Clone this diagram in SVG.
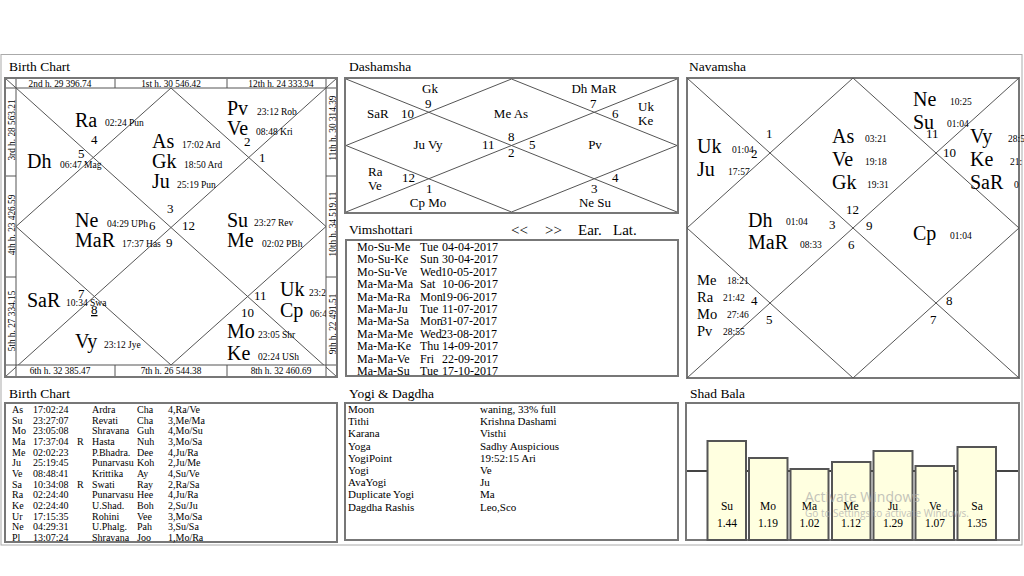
<svg xmlns="http://www.w3.org/2000/svg" width="1024" height="576" viewBox="0 0 1024 576">
<style>
text{font-family:"Liberation Serif","Times New Roman",serif;fill:#000}
.t{font-size:13.5px}
.big{font-size:20px}
.mid{font-size:14.5px}
.sm{font-size:9.5px}
.num{font-size:13px}
.strip{font-size:9.3px}
.d{font-size:13px}
.c{text-anchor:middle}
.row{font-size:12px}
.hdr{font-size:15px}
.tb{font-size:10px}
.yt{font-size:11px}
.sb{font-size:11.5px;text-anchor:middle}
.box{fill:none;stroke:#777;stroke-width:2}
.ln{stroke:#555;stroke-width:1;fill:none}
.stripbox{fill:#fff;stroke:#555;stroke-width:1}
.bar{fill:#ffffe0;stroke:#555;stroke-width:2}
.wm{font-family:"Open Sans","DejaVu Sans",sans-serif;fill:#aaa;opacity:0.7}
</style>
<rect x="0" y="0" width="1024" height="576" fill="#fff"/>
<rect x="1" y="54.5" width="1021" height="490.5" fill="none" stroke="#aaa" stroke-width="1"/>

<!-- Birth Chart -->
<g id="birth-chart">
<text class="t" x="9" y="71">Birth Chart</text>
<g id="birth-lines">
<line class="ln" x1="5" y1="78" x2="337" y2="377"/>
<line class="ln" x1="337" y1="78" x2="5" y2="377"/>
<polygon class="ln" points="171,88 326,226.5 171,365 16,226.5"/>
</g>
<g id="birth-planets">
<text class="big" x="75" y="127">Ra</text><text class="sm" x="105" y="126">02:24 Pun</text>
<text class="num" x="91" y="144">4</text>
<text class="num" x="78" y="158">5</text>
<text class="big" x="27" y="168">Dh</text><text class="sm" x="60" y="168">06:47 Mag</text>
<text class="big" x="152" y="148">As</text><text class="sm" x="182" y="148">17:02 Ard</text>
<text class="big" x="152" y="168">Gk</text><text class="sm" x="184" y="168">18:50 Ard</text>
<text class="big" x="152" y="188">Ju</text><text class="sm" x="177" y="188">25:19 Pun</text>
<text class="num" x="167" y="213">3</text>
<text class="big" x="227" y="115">Pv</text><text class="sm" x="257" y="115">23:12 Rob</text>
<text class="big" x="227" y="135">Ve</text><text class="sm" x="256" y="135">08:48 Kri</text>
<text class="num" x="244" y="146">2</text>
<text class="num" x="259" y="162">1</text>
<text class="big" x="75" y="227">Ne</text><text class="sm" x="107" y="227">04:29 UPh</text>
<text class="num" x="149" y="230">6</text>
<text class="big" x="75" y="247">MaR</text><text class="sm" x="122" y="247">17:37 Has</text>
<text class="num" x="166" y="247">9</text>
<text class="num" x="182" y="230">12</text>
<text class="big" x="227" y="227">Su</text><text class="sm" x="254" y="226">23:27 Rev</text>
<text class="big" x="227" y="247">Me</text><text class="sm" x="262" y="247">02:02 PBh</text>
<text class="big" x="27" y="307">SaR</text><text class="sm" x="66" y="306">10:34 Swa</text>
<text class="num" x="78" y="298">7</text>
<text class="num" x="91" y="314" text-decoration="underline">8</text>
<text class="big" x="75" y="348">Vy</text><text class="sm" x="104" y="348">23:12 Jye</text>
<text class="big" x="280" y="296">Uk</text><text class="sm" x="309" y="296">23:2</text>
<text class="num" x="254" y="300">11</text>
<text class="num" x="241" y="317">10</text>
<text class="big" x="280" y="317">Cp</text><text class="sm" x="310" y="317">06:4</text>
<text class="big" x="227" y="338">Mo</text><text class="sm" x="258" y="338">23:05 Shr</text>
<text class="big" x="227" y="360">Ke</text><text class="sm" x="258" y="360">02:24 USh</text>
</g>
<g id="birth-strips">
<rect class="stripbox" x="16" y="78" width="310" height="10"/>
<rect class="stripbox" x="16" y="365" width="310" height="12"/>
<rect class="stripbox" x="5" y="88" width="11" height="277"/>
<rect class="stripbox" x="326" y="88" width="11" height="277"/>
<line class="ln" x1="115" y1="78" x2="115" y2="88"/>
<line class="ln" x1="227" y1="78" x2="227" y2="88"/>
<line class="ln" x1="115" y1="365" x2="115" y2="377"/>
<line class="ln" x1="227" y1="365" x2="227" y2="377"/>
<line class="ln" x1="5" y1="176" x2="16" y2="176"/>
<line class="ln" x1="5" y1="277" x2="16" y2="277"/>
<line class="ln" x1="326" y1="176" x2="337" y2="176"/>
<line class="ln" x1="326" y1="277" x2="337" y2="277"/>
<text class="strip c" x="60" y="87">2nd h. 29 396.74</text>
<text class="strip c" x="171" y="87">1st h. 30 546.42</text>
<text class="strip c" x="281" y="87">12th h. 24 333.94</text>
<text class="strip c" x="60" y="374">6th h. 32 385.47</text>
<text class="strip c" x="171" y="374">7th h. 26 544.38</text>
<text class="strip c" x="281" y="374">8th h. 32 460.69</text>
<text class="strip c" transform="translate(14.5,130) rotate(-90)">3rd h. 28 563.21</text>
<text class="strip c" transform="translate(14.5,225) rotate(-90)">4th h. 23 426.59</text>
<text class="strip c" transform="translate(14.5,321) rotate(-90)">5th h. 27 334.15</text>
<text class="strip c" transform="translate(335.5,128) rotate(-90)">11th h. 30 314.39</text>
<text class="strip c" transform="translate(335.5,224) rotate(-90)">10th h. 34 519.11</text>
<text class="strip c" transform="translate(335.5,324) rotate(-90)">9th h. 22 491.51</text>
</g>
<rect class="box" x="5" y="78" width="332" height="299"/>
</g>

<!-- Dashamsha -->
<g id="dashamsha">
<text class="t" x="349" y="71">Dashamsha</text>
<rect class="box" x="345" y="78" width="333" height="135"/>
<g id="dasha-lines">
<line class="ln" x1="346" y1="79" x2="677" y2="212"/>
<line class="ln" x1="677" y1="79" x2="346" y2="212"/>
<polygon class="ln" points="511.5,79 677,145.5 511.5,212 346,145.5"/>
</g>
<text class="d c" x="430" y="93">Gk</text>
<text class="d" x="425" y="108">9</text>
<text class="d" x="367" y="118">SaR</text>
<text class="d" x="401" y="118">10</text>
<text class="d c" x="511" y="118">Me As</text>
<text class="d c" x="594" y="93">Dh MaR</text>
<text class="d" x="590" y="108">7</text>
<text class="d" x="612" y="118">6</text>
<text class="d" x="638" y="111">Uk</text>
<text class="d" x="638" y="125">Ke</text>
<text class="d c" x="428" y="149">Ju Vy</text>
<text class="d" x="482" y="149">11</text>
<text class="d" x="508" y="141">8</text>
<text class="d" x="508" y="157">2</text>
<text class="d" x="529" y="149">5</text>
<text class="d c" x="595" y="149">Pv</text>
<text class="d" x="368" y="176">Ra</text>
<text class="d" x="368" y="190">Ve</text>
<text class="d" x="402" y="182">12</text>
<text class="d" x="426" y="193">1</text>
<text class="d c" x="428" y="207">Cp Mo</text>
<text class="d" x="612" y="182">4</text>
<text class="d" x="591" y="193">3</text>
<text class="d c" x="595" y="207">Ne Su</text>
</g>

<!-- Vimshottari -->
<g id="vimshottari">
<text class="t" x="349" y="234">Vimshottari</text>
<text class="hdr" x="511" y="235">&lt;&lt;</text>
<text class="hdr" x="545" y="235">&gt;&gt;</text>
<text class="hdr" x="578" y="235">Ear.</text>
<text class="hdr" x="613" y="235">Lat.</text>
<rect class="box" x="346" y="240" width="332" height="136"/>
<g class="row">
<text class="row" x="357" y="251">Mo-Su-Me</text><text class="row" x="420" y="251">Tue</text><text class="row" x="442" y="251">04-04-2017</text>
<text class="row" x="357" y="263.4">Mo-Su-Ke</text><text class="row" x="420" y="263.4">Sun</text><text class="row" x="442" y="263.4">30-04-2017</text>
<text class="row" x="357" y="275.8">Mo-Su-Ve</text><text class="row" x="420" y="275.8">Wed</text><text class="row" x="441" y="275.8">10-05-2017</text>
<text class="row" x="357" y="288.2">Ma-Ma-Ma</text><text class="row" x="420" y="288.2">Sat</text><text class="row" x="442" y="288.2">10-06-2017</text>
<text class="row" x="357" y="300.6">Ma-Ma-Ra</text><text class="row" x="420" y="300.6">Mon</text><text class="row" x="441" y="300.6">19-06-2017</text>
<text class="row" x="357" y="313">Ma-Ma-Ju</text><text class="row" x="420" y="313">Tue</text><text class="row" x="442" y="313">11-07-2017</text>
<text class="row" x="357" y="325.4">Ma-Ma-Sa</text><text class="row" x="420" y="325.4">Mon</text><text class="row" x="441" y="325.4">31-07-2017</text>
<text class="row" x="357" y="337.8">Ma-Ma-Me</text><text class="row" x="420" y="337.8">Wed</text><text class="row" x="441" y="337.8">23-08-2017</text>
<text class="row" x="357" y="350.2">Ma-Ma-Ke</text><text class="row" x="420" y="350.2">Thu</text><text class="row" x="442" y="350.2">14-09-2017</text>
<text class="row" x="357" y="362.6">Ma-Ma-Ve</text><text class="row" x="420" y="362.6">Fri</text><text class="row" x="442" y="362.6">22-09-2017</text>
<text class="row" x="357" y="375">Ma-Ma-Su</text><text class="row" x="420" y="375">Tue</text><text class="row" x="442" y="375">17-10-2017</text>
</g>
</g>

<!-- Navamsha -->
<g id="navamsha">
<text class="t" x="689" y="71">Navamsha</text>
<rect class="box" x="687" y="78" width="332" height="300"/>
<g id="nav-lines">
<line class="ln" x1="687" y1="78" x2="1019" y2="378"/>
<line class="ln" x1="1019" y1="78" x2="687" y2="378"/>
<polygon class="ln" points="853,78 1019,228 853,378 687,228"/>
</g>
<text class="num" x="766" y="138">1</text>
<text class="big" x="697" y="153">Uk</text><text class="sm" x="732" y="153">01:04</text>
<text class="num" x="751" y="158">2</text>
<text class="big" x="697" y="176">Ju</text><text class="sm" x="728" y="175">17:57</text>
<text class="big" x="832" y="143">As</text><text class="sm" x="865" y="142">03:21</text>
<text class="big" x="832" y="166">Ve</text><text class="sm" x="865" y="165">19:18</text>
<text class="big" x="832" y="189">Gk</text><text class="sm" x="867" y="188">19:31</text>
<text class="num" x="846" y="214">12</text>
<text class="big" x="913" y="106">Ne</text><text class="sm" x="950" y="105">10:25</text>
<text class="big" x="913" y="129">Su</text><text class="sm" x="947" y="127">01:04</text>
<text class="num" x="926" y="138">11</text>
<text class="num" x="943" y="157">10</text>
<text class="big" x="970" y="143">Vy</text><text class="sm" x="1008" y="142">28:5</text>
<text class="big" x="970" y="166">Ke</text><text class="sm" x="1010" y="165">21:</text>
<text class="big" x="970" y="189">SaR</text><text class="sm" x="1014" y="188">0</text>
<text class="big" x="748" y="227">Dh</text><text class="sm" x="786" y="225">01:04</text>
<text class="num" x="829" y="229">3</text>
<text class="big" x="748" y="249">MaR</text><text class="sm" x="800" y="248">08:33</text>
<text class="num" x="848" y="249">6</text>
<text class="num" x="866" y="230">9</text>
<text class="big" x="913" y="240">Cp</text><text class="sm" x="950" y="239">01:04</text>
<text class="mid" x="697" y="285">Me</text><text class="sm" x="727" y="284">18:21</text>
<text class="mid" x="697" y="302">Ra</text><text class="sm" x="723" y="301">21:42</text>
<text class="num" x="751" y="305">4</text>
<text class="mid" x="697" y="319">Mo</text><text class="sm" x="727" y="318">27:46</text>
<text class="num" x="766" y="324">5</text>
<text class="mid" x="697" y="336">Pv</text><text class="sm" x="723" y="335">28:55</text>
<text class="num" x="946" y="305">8</text>
<text class="num" x="930" y="324">7</text>
</g>

<!-- Birth Chart table -->
<g id="birth-table">
<text class="t" x="9" y="398">Birth Chart</text>
<rect class="box" x="5" y="403" width="332" height="139"/>
<g class="tb">
<text class="tb" x="12" y="413">As</text><text class="tb" x="33" y="413">17:02:24</text><text class="tb" x="92" y="413">Ardra</text><text class="tb" x="137" y="413">Cha</text><text class="tb" x="168" y="413">4,Ra/Ve</text>
<text class="tb" x="12" y="423.7">Su</text><text class="tb" x="33" y="423.7">23:27:07</text><text class="tb" x="92" y="423.7">Revati</text><text class="tb" x="137" y="423.7">Cha</text><text class="tb" x="168" y="423.7">3,Me/Ma</text>
<text class="tb" x="12" y="434.3">Mo</text><text class="tb" x="33" y="434.3">23:05:08</text><text class="tb" x="92" y="434.3">Shravana</text><text class="tb" x="137" y="434.3">Guh</text><text class="tb" x="168" y="434.3">4,Mo/Su</text>
<text class="tb" x="12" y="445">Ma</text><text class="tb" x="33" y="445">17:37:04</text><text class="tb" x="77" y="445">R</text><text class="tb" x="92" y="445">Hasta</text><text class="tb" x="137" y="445">Nuh</text><text class="tb" x="168" y="445">3,Mo/Sa</text>
<text class="tb" x="12" y="455.7">Me</text><text class="tb" x="33" y="455.7">02:02:23</text><text class="tb" x="92" y="455.7">P.Bhadra.</text><text class="tb" x="137" y="455.7">Dee</text><text class="tb" x="168" y="455.7">4,Ju/Ra</text>
<text class="tb" x="12" y="466.3">Ju</text><text class="tb" x="33" y="466.3">25:19:45</text><text class="tb" x="92" y="466.3">Punarvasu</text><text class="tb" x="137" y="466.3">Koh</text><text class="tb" x="168" y="466.3">2,Ju/Me</text>
<text class="tb" x="12" y="477">Ve</text><text class="tb" x="33" y="477">08:48:41</text><text class="tb" x="92" y="477">Krittika</text><text class="tb" x="137" y="477">Ay</text><text class="tb" x="168" y="477">4,Su/Ve</text>
<text class="tb" x="12" y="487.7">Sa</text><text class="tb" x="33" y="487.7">10:34:08</text><text class="tb" x="77" y="487.7">R</text><text class="tb" x="92" y="487.7">Swati</text><text class="tb" x="137" y="487.7">Ray</text><text class="tb" x="168" y="487.7">2,Ra/Sa</text>
<text class="tb" x="12" y="498.3">Ra</text><text class="tb" x="33" y="498.3">02:24:40</text><text class="tb" x="92" y="498.3">Punarvasu</text><text class="tb" x="137" y="498.3">Hee</text><text class="tb" x="168" y="498.3">4,Ju/Ra</text>
<text class="tb" x="12" y="509">Ke</text><text class="tb" x="33" y="509">02:24:40</text><text class="tb" x="92" y="509">U.Shad.</text><text class="tb" x="137" y="509">Boh</text><text class="tb" x="168" y="509">2,Su/Ju</text>
<text class="tb" x="12" y="519.7">Ur</text><text class="tb" x="33" y="519.7">17:15:35</text><text class="tb" x="92" y="519.7">Rohini</text><text class="tb" x="137" y="519.7">Vee</text><text class="tb" x="168" y="519.7">3,Mo/Sa</text>
<text class="tb" x="12" y="530.3">Ne</text><text class="tb" x="33" y="530.3">04:29:31</text><text class="tb" x="92" y="530.3">U.Phalg.</text><text class="tb" x="137" y="530.3">Pah</text><text class="tb" x="168" y="530.3">3,Su/Sa</text>
<text class="tb" x="12" y="541">Pl</text><text class="tb" x="33" y="541">13:07:24</text><text class="tb" x="92" y="541">Shravana</text><text class="tb" x="137" y="541">Joo</text><text class="tb" x="168" y="541">1,Mo/Ra</text>
</g>
</g>

<!-- Yogi & Dagdha -->
<g id="yogi-dagdha">
<text class="t" x="349" y="398">Yogi &amp; Dagdha</text>
<rect class="box" x="345" y="403" width="333" height="137"/>
<text class="yt" x="348" y="413">Moon</text><text class="yt" x="480" y="413">waning, 33% full</text>
<text class="yt" x="348" y="425.2">Tithi</text><text class="yt" x="480" y="425.2">Krishna  Dashami</text>
<text class="yt" x="348" y="437.4">Karana</text><text class="yt" x="480" y="437.4">Visthi</text>
<text class="yt" x="348" y="449.6">Yoga</text><text class="yt" x="480" y="449.6">Sadhy Auspicious</text>
<text class="yt" x="348" y="461.8">YogiPoint</text><text class="yt" x="480" y="461.8">19:52:15 Ari</text>
<text class="yt" x="348" y="474">Yogi</text><text class="yt" x="480" y="474">Ve</text>
<text class="yt" x="348" y="486.2">AvaYogi</text><text class="yt" x="480" y="486.2">Ju</text>
<text class="yt" x="348" y="498.4">Duplicate Yogi</text><text class="yt" x="480" y="498.4">Ma</text>
<text class="yt" x="348" y="510.6">Dagdha Rashis</text><text class="yt" x="480" y="510.6">Leo,Sco</text>
</g>

<!-- Shad Bala -->
<g id="shad-bala">
<text class="t" x="690" y="398">Shad Bala</text>
<rect class="box" x="686" y="403" width="333" height="137"/>
<line x1="687" y1="471" x2="1018" y2="471" stroke="#444" stroke-width="2"/>
<rect class="bar" x="707.5" y="441" width="38.5" height="99"/>
<rect class="bar" x="749" y="458" width="38.5" height="82"/>
<rect class="bar" x="790.5" y="469" width="38" height="71"/>
<rect class="bar" x="832" y="462" width="38.5" height="78"/>
<rect class="bar" x="873.5" y="451" width="39" height="89"/>
<rect class="bar" x="915.5" y="466" width="38.5" height="74"/>
<rect class="bar" x="957.5" y="447" width="38.5" height="93"/>
<text class="sb" x="727" y="510">Su</text><text class="sb" x="727" y="527">1.44</text>
<text class="sb" x="768" y="510">Mo</text><text class="sb" x="768" y="527">1.19</text>
<text class="sb" x="809.5" y="510">Ma</text><text class="sb" x="809.5" y="527">1.02</text>
<text class="sb" x="851" y="510">Me</text><text class="sb" x="851" y="527">1.12</text>
<text class="sb" x="893" y="510">Ju</text><text class="sb" x="893" y="527">1.29</text>
<text class="sb" x="935" y="510">Ve</text><text class="sb" x="935" y="527">1.07</text>
<text class="sb" x="977" y="510">Sa</text><text class="sb" x="977" y="527">1.35</text>
<text class="wm" x="805" y="502" font-size="14">Activate Windows</text>
<text class="wm" x="805" y="517" font-size="10">Go to Settings to activate Windows.</text>
</g>
</svg>
